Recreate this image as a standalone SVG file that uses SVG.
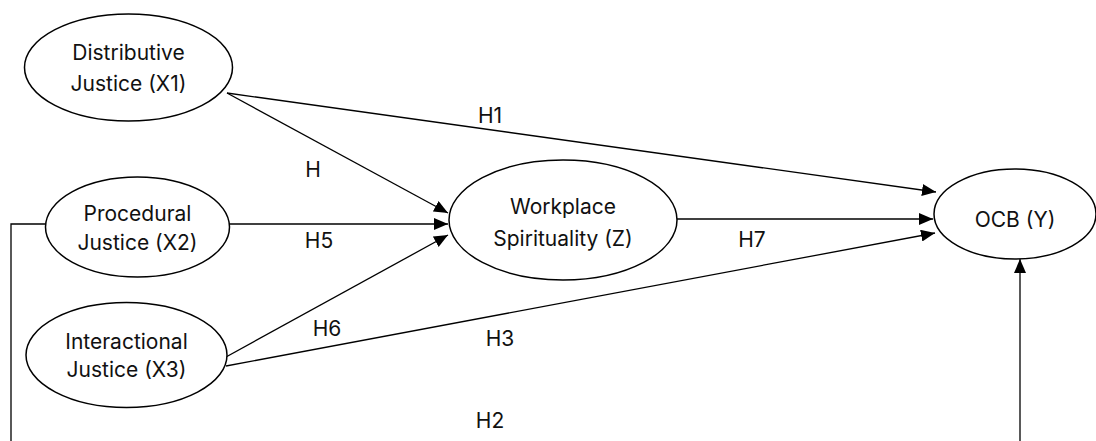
<svg xmlns="http://www.w3.org/2000/svg" width="1096" height="441" viewBox="0 0 1096 441">
<defs>
<marker id="arr" viewBox="0 0 14 12" refX="14" refY="6" markerWidth="14" markerHeight="12" markerUnits="userSpaceOnUse" orient="auto">
<path d="M0,0 L14,6 L0,12 Z" fill="#000"/>
</marker>
<style>
.node ellipse{fill:#fff;stroke:#000;stroke-width:1.5}
.node text,.lbl{font-family:Inter,"Liberation Sans",sans-serif;font-size:21px;fill:#111;text-anchor:middle}
.edge{fill:none;stroke:#000;stroke-width:1.3}
.edge.a{marker-end:url(#arr)}
</style>
</defs>
<rect width="1096" height="441" fill="#fff"/>
<g id="connectors">
<path class="edge a" d="M227,93 L936,192"/>
<path class="edge a" d="M227,93 L448,213"/>
<path class="edge a" d="M229,224 L448,224"/>
<path class="edge a" d="M226,357 L448,235"/>
<path class="edge a" d="M226,366 L935,233"/>
<path class="edge a" d="M677,219 L933,219"/>
<path class="edge" d="M46,224 L11,224 L11,450"/>
<path class="edge a" d="M1020,450 L1020,259"/>
</g>
<g id="labels">
<text class="lbl" x="490" y="123">H1</text>
<text class="lbl" x="313" y="177">H</text>
<text class="lbl" x="319" y="248">H5</text>
<text class="lbl" x="752" y="247">H7</text>
<text class="lbl" x="327" y="336">H6</text>
<text class="lbl" x="500" y="346">H3</text>
<text class="lbl" x="490" y="428">H2</text>
</g>
<g id="n-x1" class="node">
<ellipse cx="128.5" cy="67.5" rx="104" ry="53.5"/>
<text x="128.5" y="60">Distributive</text>
<text x="128.5" y="91">Justice (X1)</text>
</g>
<g id="n-x2" class="node">
<ellipse cx="137.5" cy="227" rx="92" ry="50"/>
<text x="137.5" y="221">Procedural</text>
<text x="137.5" y="250">Justice (X2)</text>
</g>
<g id="n-x3" class="node">
<ellipse cx="126.5" cy="355" rx="100.5" ry="52.5"/>
<text x="126.5" y="349">Interactional</text>
<text x="126.5" y="377">Justice (X3)</text>
</g>
<g id="n-z" class="node">
<ellipse cx="563" cy="220" rx="114" ry="60"/>
<text x="563" y="214">Workplace</text>
<text x="563" y="246">Spirituality (Z)</text>
</g>
<g id="n-y" class="node">
<ellipse cx="1015" cy="214" rx="81" ry="45"/>
<text x="1015" y="227">OCB (Y)</text>
</g>
</svg>
